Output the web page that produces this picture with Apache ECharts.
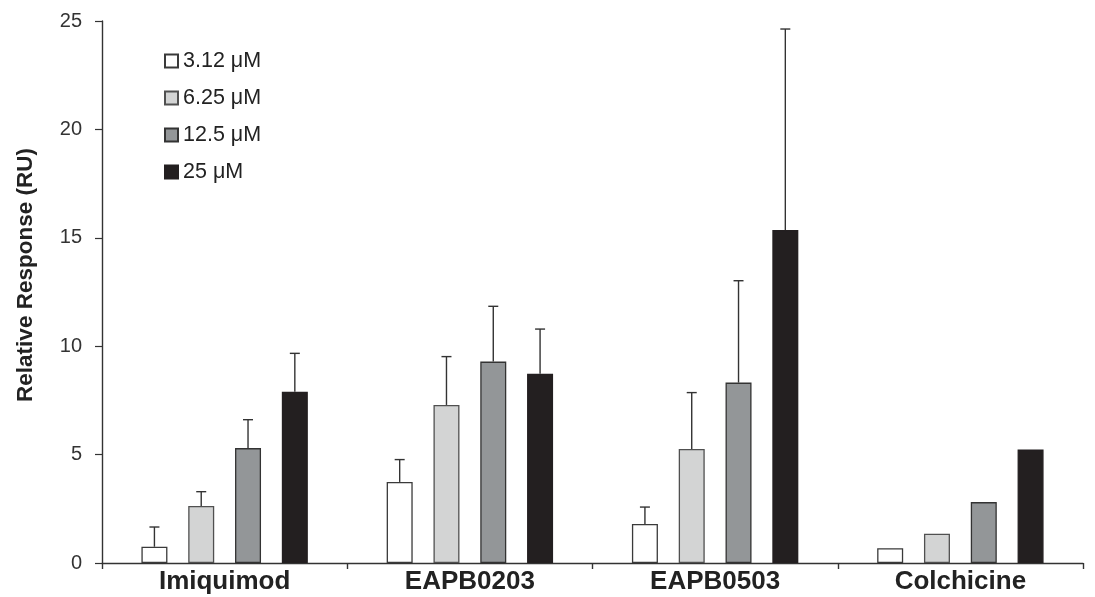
<!DOCTYPE html>
<html>
<head>
<meta charset="utf-8">
<script src="https://cdn.jsdelivr.net/npm/echarts@6/dist/echarts.min.js"></script>
<style>
html,body{margin:0;padding:0;background:#fff;}
#chart{width:1095px;height:597px;}
</style>
</head>
<body>
<div id="chart"></div>
<script>
// ---- Data ----
const categories = ['Imiquimod', 'EAPB0203', 'EAPB0503', 'Colchicine'];
const seriesNames = ['3.12 μM', '6.25 μM', '12.5 μM', '25 μM'];
const mean_312 = [0.75, 3.74, 1.80, 0.68];
const mean_625 = [2.63, 7.29, 5.26, 1.35];
const mean_125 = [5.30, 9.29, 8.32, 2.81];
const mean_25  = [7.90, 8.73, 15.36, 5.24];
// upper ends of error bars (null = no error bar)
const upper_312 = [1.66, 4.77, 2.58, null];
const upper_625 = [3.29, 9.52, 7.86, null];
const upper_125 = [6.61, 11.84, 13.02, null];
const upper_25  = [9.67, 10.79, 24.63, null];
const yTicks = [0, 5, 10, 15, 20, 25];

// ---- Styles ----
const means = [mean_312, mean_625, mean_125, mean_25];
const uppers = [upper_312, upper_625, upper_125, upper_25];
const fills = ['#ffffff', '#d3d4d4', '#939698', '#231f20'];
const borders = ['#3a3a3a', '#505050', '#333333', '#231f20'];
const FONT = '"Liberation Sans", Arial, Helvetica, sans-serif';
const BAR_W = 26;
const GAP_RATIO = 0.8;
const STEP = BAR_W * (1 + GAP_RATIO);

const chart = echarts.init(document.getElementById('chart'));

const series = [];
means.forEach((m, i) => {
  series.push({
    name: seriesNames[i],
    type: 'bar',
    data: m,
    barWidth: BAR_W,
    barGap: (GAP_RATIO * 100) + '%',
    itemStyle: { color: fills[i], borderColor: borders[i], borderWidth: 1.3 },
    z: 2
  });
});
means.forEach((m, i) => {
  const data = [];
  m.forEach((v, k) => { if (uppers[i][k] != null) data.push([k, v, uppers[i][k]]); });
  const offset = (i - 1.5) * STEP;
  series.push({
    name: 'err' + i,
    type: 'custom',
    z: 3,
    silent: true,
    data: data,
    encode: { x: 0, y: [1, 2] },
    renderItem: function (params, api) {
      const base = api.coord([api.value(0), api.value(1)]);
      const top = api.coord([api.value(0), api.value(2)]);
      const x = base[0] + offset;
      const st = { stroke: '#333', lineWidth: 1.4 };
      return {
        type: 'group',
        children: [
          { type: 'line', shape: { x1: x, y1: base[1], x2: x, y2: top[1] }, style: st },
          { type: 'line', shape: { x1: x - 5, y1: top[1], x2: x + 5, y2: top[1] }, style: st }
        ]
      };
    }
  });
});

chart.setOption({
  animation: false,
  backgroundColor: '#fff',
  textStyle: { fontFamily: FONT },
  grid: { left: 102, right: 12, top: 21, bottom: 34, containLabel: false },
  legend: {
    data: seriesNames,
    orient: 'vertical',
    left: 164,
    top: 50,
    padding: 0,
    icon: 'rect',
    itemWidth: 13,
    itemHeight: 13,
    itemGap: 15,
    textStyle: { fontSize: 21.5, color: '#222', fontFamily: FONT }
  },
  xAxis: {
    type: 'category',
    data: categories,
    axisLine: { lineStyle: { color: '#333', width: 1.4 } },
    axisTick: { show: true, length: 6, lineStyle: { color: '#333', width: 1.4 } },
    axisLabel: { fontSize: 26, fontWeight: 'bold', color: '#222', margin: 6, fontFamily: FONT }
  },
  yAxis: {
    type: 'value',
    min: yTicks[0],
    max: yTicks[yTicks.length - 1],
    interval: yTicks[1] - yTicks[0],
    name: 'Relative Response (RU)',
    nameLocation: 'middle',
    nameGap: 65,
    nameTextStyle: { fontSize: 22.5, fontWeight: 'bold', color: '#222', fontFamily: FONT, padding: [0, 0, 0, 34] },
    axisLine: { show: true, lineStyle: { color: '#333', width: 1.4 } },
    axisTick: { show: true, length: 7, lineStyle: { color: '#333', width: 1.2 } },
    axisLabel: { fontSize: 20, color: '#333', margin: 20, fontFamily: FONT },
    splitLine: { show: false }
  },
  series: series
});
</script>
</body>
</html>
